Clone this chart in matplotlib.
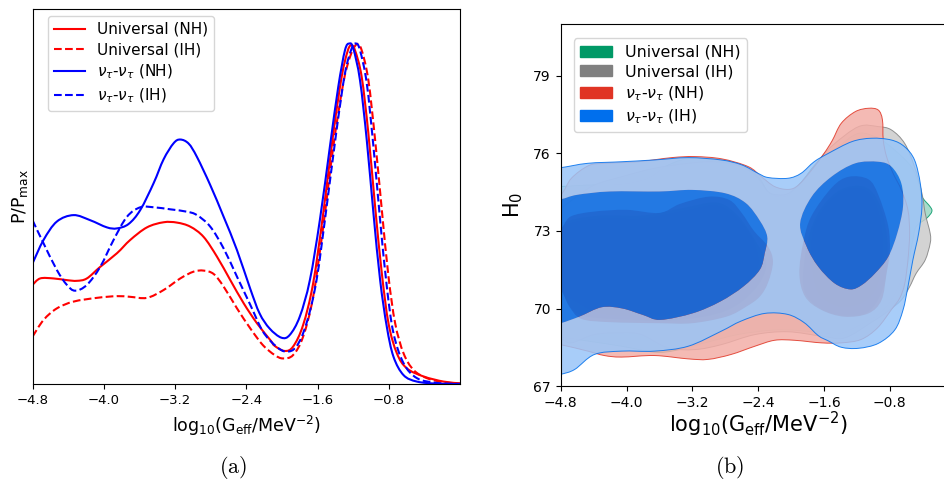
import numpy as np
import matplotlib
matplotlib.use("Agg")
import matplotlib.pyplot as plt
from matplotlib.path import Path
from matplotlib.patches import PathPatch, Patch
from matplotlib.lines import Line2D

# --- 1D marginal posteriors of log10(Geff) ---
x_univ_nh = [-4.8, -4.714, -4.564, -4.414, -4.302, -4.19, -4.04, -3.852, -3.703, -3.515,
             -3.328, -3.178, -3.028, -2.879, -2.729, -2.579, -2.429, -2.279, -2.13, -2.081,
             -1.968, -1.874, -1.762, -1.649, -1.536, -1.423, -1.329, -1.265, -1.224, -1.179,
             -1.104, -1.029, -0.953, -0.878, -0.803, -0.709, -0.597, -0.408, -0.183, 0.0]
p_univ_nh = [0.291, 0.31, 0.31, 0.305, 0.303, 0.31, 0.344, 0.384, 0.423, 0.46,
             0.475, 0.474, 0.462, 0.432, 0.374, 0.305, 0.237, 0.178, 0.129, 0.112,
             0.097, 0.11, 0.173, 0.296, 0.501, 0.736, 0.902, 0.975, 0.995, 0.98,
             0.902, 0.736, 0.52, 0.325, 0.178, 0.09, 0.046, 0.022, 0.007, 0.002]

x_univ_ih = [-4.8, -4.676, -4.527, -4.339, -4.077, -3.852, -3.703, -3.515, -3.328, -3.141,
             -2.991, -2.879, -2.766, -2.654, -2.504, -2.354, -2.213, -2.081, -1.987, -1.874,
             -1.762, -1.649, -1.536, -1.423, -1.311, -1.235, -1.16, -1.104, -1.029, -0.953,
             -0.878, -0.803, -0.728, -0.634, -0.521, -0.371, -0.183, 0.0]
p_univ_ih = [0.139, 0.188, 0.222, 0.242, 0.253, 0.258, 0.256, 0.253, 0.276, 0.31,
             0.33, 0.333, 0.323, 0.286, 0.222, 0.163, 0.114, 0.085, 0.075, 0.085,
             0.139, 0.256, 0.462, 0.697, 0.883, 0.961, 0.998, 0.98, 0.892, 0.716,
             0.511, 0.315, 0.178, 0.09, 0.041, 0.017, 0.005, 0.001]

x_tau_nh = [-4.8, -4.676, -4.527, -4.339, -4.152, -3.965, -3.852, -3.721, -3.59, -3.44,
            -3.328, -3.216, -3.141, -3.047, -2.954, -2.804, -2.654, -2.504, -2.356, -2.25,
            -2.138, -2.006, -1.912, -1.799, -1.686, -1.574, -1.461, -1.367, -1.292, -1.243,
            -1.198, -1.123, -1.047, -0.972, -0.897, -0.822, -0.747, -0.634, -0.483, -0.258, 0.0]
p_tau_nh = [0.354, 0.423, 0.477, 0.496, 0.481, 0.46, 0.457, 0.47, 0.511, 0.59,
            0.66, 0.707, 0.718, 0.706, 0.667, 0.584, 0.491, 0.393, 0.28, 0.207,
            0.163, 0.136, 0.144, 0.198, 0.305, 0.481, 0.697, 0.873, 0.98, 1.0,
            0.985, 0.892, 0.716, 0.501, 0.305, 0.168, 0.08, 0.026, 0.007, 0.001, 0.0]

x_tau_ih = [-4.8, -4.676, -4.527, -4.414, -4.321, -4.19, -4.04, -3.89, -3.74, -3.59,
            -3.44, -3.253, -3.066, -2.954, -2.804, -2.654, -2.504, -2.354, -2.213, -2.062,
            -1.95, -1.837, -1.724, -1.611, -1.498, -1.386, -1.292, -1.217, -1.168, -1.123,
            -1.047, -0.972, -0.897, -0.822, -0.747, -0.634, -0.483, -0.258, 0.0]
p_tau_ih = [0.481, 0.413, 0.335, 0.291, 0.274, 0.291, 0.344, 0.423, 0.491, 0.519,
            0.519, 0.513, 0.506, 0.496, 0.462, 0.398, 0.315, 0.232, 0.154, 0.11,
            0.095, 0.11, 0.178, 0.305, 0.52, 0.746, 0.912, 0.985, 1.0, 0.98,
            0.883, 0.697, 0.481, 0.286, 0.149, 0.061, 0.017, 0.003, 0.0]

# --- 2D (log10 Geff, H0) credible regions: outer (95%) and inner (68%) boundaries ---
univ_nh_outer = [(-5.0, 74.7), (-4.8, 74.72), (-4.46, 74.78), (-4.06, 74.81), (-3.74, 75.04),
                 (-3.53, 75.49), (-3.33, 75.75), (-3.13, 75.81), (-2.84, 75.75), (-2.6, 75.53),
                 (-2.4, 75.1), (-2.28, 74.52), (-2.16, 74.33), (-2.03, 74.4), (-1.87, 74.91),
                 (-1.71, 75.56), (-1.55, 76.0), (-1.43, 76.26), (-1.18, 76.78), (-0.94, 76.59),
                 (-0.74, 76.13), (-0.54, 75.49), (-0.45, 74.84), (-0.41, 74.33), (-0.31, 73.94),
                 (-0.29, 73.75), (-0.35, 73.5), (-0.48, 73.17), (-0.52, 72.65), (-0.58, 71.75),
                 (-0.66, 71.1), (-0.78, 70.33), (-0.94, 69.75), (-1.03, 69.6), (-1.23, 69.25),
                 (-1.43, 69.02), (-1.63, 69.06), (-1.96, 69.16), (-2.24, 69.16), (-2.65, 68.99),
                 (-3.05, 68.67), (-3.42, 68.37), (-3.66, 68.31), (-4.06, 68.54), (-4.47, 68.74),
                 (-4.8, 68.89), (-5.0, 68.9)]
univ_nh_inner_left = [(-5.0, 72.8), (-4.7, 73.3), (-4.3, 73.5), (-3.8, 73.5), (-3.3, 73.8),
                      (-2.9, 74.0), (-2.65, 73.5), (-2.45, 72.6), (-2.4, 71.6), (-2.6, 70.8),
                      (-3.0, 70.1), (-3.6, 69.7), (-4.3, 69.8), (-4.7, 70.4), (-5.0, 70.9)]
univ_nh_inner_right = [(-1.75, 72.8), (-1.6, 73.9), (-1.35, 74.6), (-1.1, 74.6), (-0.95, 73.9),
                       (-0.88, 72.5), (-0.95, 70.9), (-1.15, 70.2), (-1.45, 70.1), (-1.7, 70.8)]

univ_ih_outer = [(-5.0, 73.6), (-4.8, 73.88), (-4.63, 74.27), (-4.39, 74.78), (-4.06, 75.1),
                 (-3.66, 75.43), (-3.25, 75.62), (-2.93, 75.68), (-2.6, 75.49), (-2.4, 75.04),
                 (-2.28, 74.52), (-2.16, 74.4), (-2.03, 74.46), (-1.87, 74.91), (-1.71, 75.56),
                 (-1.5, 76.3), (-1.18, 77.04), (-0.94, 77.04), (-0.78, 76.91), (-0.62, 76.39),
                 (-0.5, 75.49), (-0.41, 74.46), (-0.37, 73.68), (-0.31, 72.91), (-0.31, 72.52),
                 (-0.37, 71.88), (-0.48, 71.36), (-0.56, 70.84), (-0.66, 70.33), (-0.82, 69.9),
                 (-1.03, 69.45), (-1.35, 68.86), (-1.63, 68.93), (-2.04, 69.1), (-2.44, 68.99),
                 (-2.85, 68.6), (-3.17, 68.41), (-3.5, 68.48), (-3.82, 68.99), (-4.06, 69.06),
                 (-4.39, 68.99), (-4.67, 68.67), (-4.8, 68.83), (-5.0, 68.9)]
univ_ih_inner_left = [(-5.0, 72.9), (-4.7, 73.4), (-4.3, 73.6), (-3.8, 73.6), (-3.3, 73.9),
                      (-2.9, 74.1), (-2.65, 73.6), (-2.45, 72.7), (-2.3, 71.7), (-2.45, 70.7),
                      (-2.8, 69.9), (-3.4, 69.55), (-4.2, 69.6), (-4.6, 69.8), (-4.8, 70.6), (-5.0, 70.8)]
univ_ih_inner_right = [(-1.8, 72.6), (-1.65, 73.8), (-1.4, 74.6), (-1.1, 74.7), (-0.92, 74.0),
                       (-0.83, 72.6), (-0.86, 71.0), (-1.05, 69.9), (-1.35, 69.72), (-1.65, 70.0),
                       (-1.85, 70.8)]

tau_nh_outer = [(-5.0, 74.2), (-4.8, 74.4), (-4.67, 75.04), (-4.46, 75.53), (-4.26, 75.62),
                (-3.86, 75.68), (-3.45, 75.84), (-3.17, 75.88), (-2.84, 75.79), (-2.52, 75.49),
                (-2.36, 75.1), (-2.2, 74.72), (-2.03, 74.61), (-1.91, 74.78), (-1.75, 75.36),
                (-1.6, 76.0), (-1.5, 76.5), (-1.39, 77.17), (-1.22, 77.62), (-1.06, 77.75),
                (-0.94, 77.68), (-0.89, 77.3), (-0.88, 76.52), (-0.84, 75.88), (-0.76, 75.23),
                (-0.66, 74.59), (-0.58, 73.81), (-0.56, 72.91), (-0.58, 71.88), (-0.62, 70.95),
                (-0.68, 70.4), (-0.78, 69.96), (-0.95, 69.25), (-1.15, 68.8), (-1.39, 68.67),
                (-1.63, 68.67), (-1.96, 68.77), (-2.2, 68.77), (-2.44, 68.54), (-2.73, 68.22),
                (-3.01, 68.03), (-3.25, 68.05), (-3.66, 68.18), (-4.06, 68.12), (-4.27, 68.18),
                (-4.47, 68.35), (-4.8, 68.6), (-5.0, 68.7)]
tau_nh_inner_left = [(-5.0, 73.0), (-4.8, 73.1), (-4.68, 73.56), (-4.4, 73.75), (-4.0, 73.82),
                     (-3.6, 73.7), (-3.35, 74.05), (-3.0, 74.33), (-2.75, 74.2), (-2.6, 73.7),
                     (-2.45, 73.0), (-2.28, 72.4), (-2.22, 71.8), (-2.28, 71.0), (-2.38, 70.46),
                     (-2.54, 70.08), (-2.78, 69.69), (-3.2, 69.43), (-3.6, 69.43), (-4.2, 69.47),
                     (-4.55, 69.6), (-4.7, 70.1), (-4.8, 70.7), (-5.0, 70.8)]
tau_nh_inner_right = [(-1.85, 72.6), (-1.75, 73.6), (-1.5, 74.7), (-1.3, 75.1), (-1.06, 75.0),
                      (-0.94, 74.4), (-0.82, 73.2), (-0.8, 72.2), (-0.84, 71.36), (-0.9, 70.33),
                      (-1.06, 69.81), (-1.35, 69.68), (-1.63, 69.94), (-1.83, 70.46), (-1.9, 71.36)]

tau_ih_outer = [(-5.0, 75.4), (-4.8, 75.45), (-4.47, 75.62), (-4.06, 75.68), (-3.66, 75.75),
                (-3.25, 75.84), (-2.85, 75.75), (-2.6, 75.56), (-2.4, 75.23), (-2.28, 75.07),
                (-2.04, 75.04), (-1.88, 75.23), (-1.72, 75.68), (-1.55, 76.0), (-1.26, 76.46),
                (-1.02, 76.59), (-0.78, 76.52), (-0.62, 76.26), (-0.5, 75.75), (-0.43, 74.84),
                (-0.41, 73.94), (-0.45, 72.91), (-0.52, 71.88), (-0.58, 70.84), (-0.64, 69.94),
                (-0.74, 69.17), (-0.94, 68.65), (-1.18, 68.46), (-1.39, 68.5), (-1.55, 68.75),
                (-1.67, 68.95), (-1.84, 69.45), (-2.04, 69.77), (-2.32, 69.81), (-2.61, 69.51),
                (-2.85, 69.12), (-3.25, 68.54), (-3.66, 68.35), (-4.06, 68.35), (-4.39, 68.22),
                (-4.63, 67.64), (-4.8, 67.45), (-5.0, 67.3)]
tau_ih_inner_left = [(-5.0, 74.2), (-4.8, 74.23), (-4.6, 74.4), (-4.2, 74.53), (-3.6, 74.53),
                     (-3.2, 74.59), (-2.8, 74.46), (-2.55, 74.08), (-2.38, 73.4), (-2.29, 72.78),
                     (-2.32, 72.14), (-2.38, 71.5), (-2.58, 70.85), (-2.86, 70.27), (-3.19, 69.82),
                     (-3.59, 69.56), (-3.8, 69.75), (-4.05, 70.0), (-4.3, 70.05), (-4.57, 69.69),
                     (-4.8, 69.43), (-5.0, 69.3)]
tau_ih_inner_right = [(-1.89, 73.3), (-1.75, 74.33), (-1.51, 75.1), (-1.22, 75.62), (-0.94, 75.68),
                      (-0.78, 75.49), (-0.66, 74.84), (-0.64, 73.94), (-0.71, 72.91), (-0.82, 72.0),
                      (-0.98, 71.36), (-1.14, 70.91), (-1.28, 70.74), (-1.47, 70.97), (-1.67, 71.62),
                      (-1.81, 72.39)]

labels = ["Universal (NH)", "Universal (IH)",
          r"$\nu_\tau$-$\nu_\tau$ (NH)", r"$\nu_\tau$-$\nu_\tau$ (IH)"]
xticks = [-4.8, -4.0, -3.2, -2.4, -1.6, -0.8]
h0_ticks = [67, 70, 73, 76, 79]


def spline_path(pts, closed=False):
    """Catmull-Rom curve through the given points, as cubic Bezier segments."""
    p = np.asarray(pts, dtype=float)
    n = len(p)
    verts = [p[0]]
    codes = [Path.MOVETO]
    nseg = n if closed else n - 1
    for i in range(nseg):
        if closed:
            p0, p1, p2, p3 = p[i - 1], p[i], p[(i + 1) % n], p[(i + 2) % n]
        else:
            p0, p1, p2, p3 = p[max(i - 1, 0)], p[i], p[i + 1], p[min(i + 2, n - 1)]
        verts += [p1 + (p2 - p0) / 6.0, p2 - (p3 - p1) / 6.0, p2]
        codes += [Path.CURVE4] * 3
    if closed:
        verts.append(p[0])
        codes.append(Path.CLOSEPOLY)
    return Path(verts, codes)


def region(pts, ccw=True):
    p = np.asarray(pts, dtype=float)
    area = 0.5 * np.sum(p[:, 0] * np.roll(p[:, 1], -1) - np.roll(p[:, 0], -1) * p[:, 1])
    if (area > 0) != ccw:
        p = p[::-1]
    return spline_path(p, closed=True)


def pale(color, f=0.6):
    c = np.array(matplotlib.colors.to_rgb(color))
    return tuple(c * (1 - f) + f)


def add_contours(ax, outer, inners, color, alpha=0.85):
    out_path = region(outer, ccw=True)
    in_paths = [region(q, ccw=False) for q in inners]
    ring = Path.make_compound_path(out_path, *in_paths)
    ax.add_patch(PathPatch(ring, facecolor=pale(color), edgecolor="none", alpha=alpha))
    for q in in_paths:
        ax.add_patch(PathPatch(q, facecolor=color, edgecolor="none", alpha=alpha))
    ax.add_patch(PathPatch(out_path, facecolor="none", edgecolor=color, lw=0.7, alpha=alpha))


def add_curve(ax, x, y, color, ls="-"):
    path = spline_path(np.column_stack([x, y]))
    ax.add_patch(PathPatch(path, facecolor="none", edgecolor=color, lw=1.5, linestyle=ls))


fig = plt.figure(figsize=(9.45, 4.83), dpi=100)

# (a) marginalised posterior
ax1 = fig.add_axes([0.0344, 0.205, 0.4524, 0.7754])
add_curve(ax1, x_univ_nh, p_univ_nh, "red")
add_curve(ax1, x_univ_ih, p_univ_ih, "red", "--")
add_curve(ax1, x_tau_nh, p_tau_nh, "blue")
add_curve(ax1, x_tau_ih, p_tau_ih, "blue", "--")
ax1.set_xlim(-4.8, 0.0)
ax1.set_ylim(0, 1.1)
ax1.set_xticks(xticks)
ax1.set_yticks([])
ax1.tick_params(axis="x", labelsize=9.5)
ax1.set_xlabel(r"log$_{10}$(G$_{\rm eff}$/MeV$^{-2}$)", fontsize=12.5, labelpad=5)
ax1.set_ylabel(r"P/P$_{\rm max}$", fontsize=12.5, labelpad=2)
line_handles = [Line2D([], [], color=c, lw=1.5, ls=s)
                for c, s in [("red", "-"), ("red", "--"), ("blue", "-"), ("blue", "--")]]
ax1.legend(line_handles, labels, loc="upper left", bbox_to_anchor=(0.036, 0.983),
           borderaxespad=0, fontsize=11.0, labelspacing=0.36, handlelength=2.0)

# (b) H0 vs log10(Geff)
ax2 = fig.add_axes([0.5933, 0.2008, 0.418, 0.7489])
add_contours(ax2, univ_nh_outer, [univ_nh_inner_left, univ_nh_inner_right], "#009966")
add_contours(ax2, univ_ih_outer, [univ_ih_inner_left, univ_ih_inner_right], "gray")
add_contours(ax2, tau_nh_outer, [tau_nh_inner_left, tau_nh_inner_right], "#E03424")
add_contours(ax2, tau_ih_outer, [tau_ih_inner_left, tau_ih_inner_right], "#006FED")
ax2.set_xlim(-4.8, 0.0)
ax2.set_ylim(67, 81)
ax2.set_xticks(xticks)
ax2.set_yticks(h0_ticks)
ax2.tick_params(labelsize=10)
ax2.set_xlabel(r"log$_{10}$(G$_{\rm eff}$/MeV$^{-2}$)", fontsize=15, labelpad=0)
ax2.set_ylabel(r"H$_0$", fontsize=15, labelpad=6)
patch_handles = [Patch(color=c) for c in ["#009966", "gray", "#E03424", "#006FED"]]
ax2.legend(patch_handles, labels, loc="upper left", bbox_to_anchor=(0.034, 0.961),
           borderaxespad=0, fontsize=11.4, labelspacing=0.3, handlelength=2.0)

fig.text(233 / 945, 1 - 481 / 483, r"$\mathrm{(a)}$", math_fontfamily="cm",
         ha="center", va="bottom", fontsize=16)
fig.text(730 / 945, 1 - 481 / 483, r"$\mathrm{(b)}$", math_fontfamily="cm",
         ha="center", va="bottom", fontsize=16)

fig.savefig("out.png", dpi=100)
